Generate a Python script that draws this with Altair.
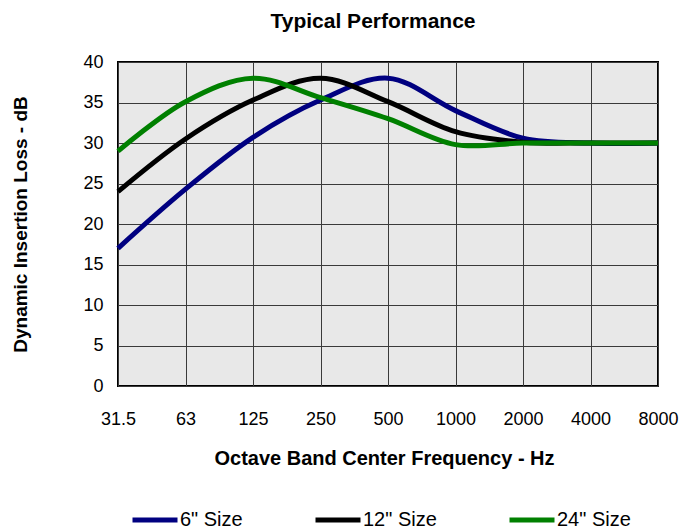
import json
import altair as alt
import pandas as pd

freqs = ["31.5", "63", "125", "250", "500", "1000", "2000", "4000", "8000"]
size_6 = [17, 24.3, 30.7, 35.3, 38, 34, 30.6, 30, 30]
size_12 = [24, 30.5, 35.3, 38, 35.1, 31.4, 30.1, 30, 30]
size_24 = [29, 35.1, 38, 35.6, 33, 29.8, 30, 30, 30]
series = ['6" Size', '12" Size', '24" Size']
colors = ["#000080", "#000000", "#008000"]

rows = []
for name, vals in zip(series, [size_6, size_12, size_24]):
    for i, v in enumerate(vals):
        rows.append({"idx": i, "freq": freqs[i], "loss": v, "series": name})
df = pd.DataFrame(rows)

FONT = "Liberation Sans"
label_expr = json.dumps(freqs) + "[datum.value]"

chart = alt.Chart(df).mark_line(
    interpolate="catmull-rom", strokeWidth=5
).encode(
    x=alt.X(
        "idx:Q",
        scale=alt.Scale(domain=[0, 8], nice=False, zero=False),
        axis=alt.Axis(
            title="Octave Band Center Frequency - Hz",
            values=list(range(9)),
            labelExpr=label_expr,
            ticks=False,
            domain=False,
            labelPadding=24,
            labelFontSize=18,
            labelFont=FONT,
            labelColor="#000",
            labelFlush=False,
            titleFontSize=20,
            titleFont=FONT,
            titleFontWeight="bold",
            titlePadding=20,
            titleColor="#000",
            titleX=266,
            grid=True,
            gridColor="#3a3a3a",
            gridWidth=1,
            gridOpacity=1,
        ),
    ),
    y=alt.Y(
        "loss:Q",
        scale=alt.Scale(domain=[0, 40], nice=False),
        axis=alt.Axis(
            title="Dynamic Insertion Loss - dB",
            values=list(range(0, 41, 5)),
            ticks=False,
            domain=False,
            labelPadding=15,
            labelFontSize=18,
            labelFont=FONT,
            labelColor="#000",
            titleFontSize=19,
            titleFont=FONT,
            titleFontWeight="bold",
            titlePadding=52,
            titleColor="#000",
            grid=True,
            gridColor="#3a3a3a",
            gridWidth=1,
            gridOpacity=1,
        ),
    ),
    color=alt.Color(
        "series:N",
        scale=alt.Scale(domain=series, range=colors),
        sort=series,
        legend=alt.Legend(
            title=None,
            orient="none",
            direction="horizontal",
            legendX=12,
            legendY=433,
            symbolType="stroke",
            symbolSize=2025,
            symbolStrokeWidth=5,
            labelFontSize=20,
            labelFont=FONT,
            labelColor="#000",
            labelOffset=0,
            columnPadding=62,
        ),
    ),
).properties(
    width=540,
    height=324,
    title=alt.TitleParams(
        "Typical Performance",
        fontSize=21,
        font=FONT,
        fontWeight="bold",
        color="#000",
        anchor="middle",
        dx=-15,
        offset=21,
    ),
    autosize=alt.AutoSizeParams(type="none"),
    padding={"left": 110, "top": 54, "right": 26, "bottom": 143},
).configure_view(
    fill="#e8e8e8",
    stroke="#000000",
    strokeWidth=2,
)

chart.save("out.html", embed_options={"renderer": "svg", "actions": False})
